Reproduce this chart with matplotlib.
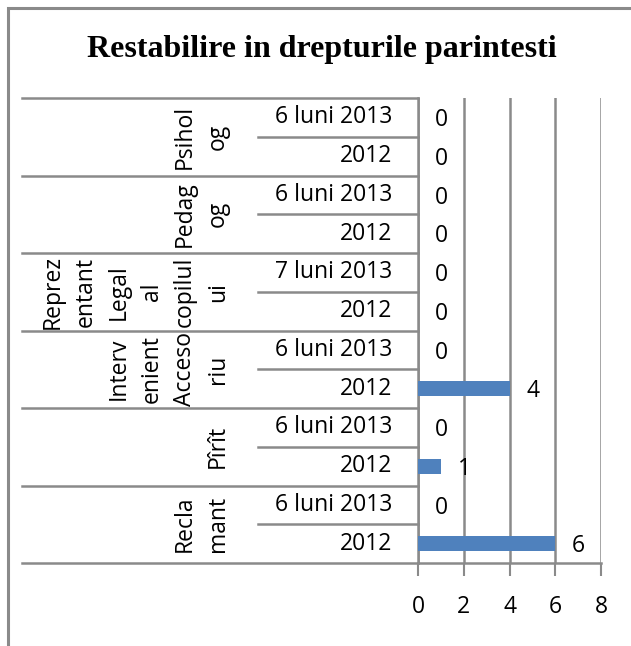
import matplotlib
matplotlib.use("Agg")
import matplotlib.pyplot as plt
import matplotlib.transforms as mtransforms
from matplotlib.patches import Rectangle
from matplotlib.lines import Line2D

# data, bottom to top (Excel draws the first category at the bottom)
groups = ["Recla\nmant", "Pîrît", "Interv\nenient\nAcceso\nriu",
          "Reprez\nentant\nLegal\nal\ncopilul\nui", "Pedag\nog", "Psihol\nog"]
periods = [["2012", "6 luni 2013"], ["2012", "6 luni 2013"], ["2012", "6 luni 2013"],
           ["2012", "7 luni 2013"], ["2012", "6 luni 2013"], ["2012", "6 luni 2013"]]
values = [[6, 0], [1, 0], [4, 0], [0, 0], [0, 0], [0, 0]]
xticks = [0, 2, 4, 6, 8]
title = "Restabilire in drepturile parintesti"

W, H = 631, 646
fig = plt.figure(figsize=(W / 100, H / 100), dpi=100)
fig.patch.set_facecolor("white")

lab_font = "Open Sans"
fs = 16.5
grey = "#8a8a8a"

# outer chart frame (cut at right and bottom)
fig.add_artist(Rectangle((8 / W, -0.05), 1.1, 1 - 8 / H + 0.05, transform=fig.transFigure,
                         fill=False, edgecolor=grey, lw=2.2))

# plot area in pixels
x0, x1, ytop, ybot = 418, 601, 98, 563
ax = fig.add_axes([x0 / W, 1 - ybot / H, (x1 - x0) / W, (ybot - ytop) / H])

names, vals = [], []
for g in range(len(groups)):
    for k in range(2):
        names.append(periods[g][k])
        vals.append(values[g][k])
pos = list(range(len(vals)))

ax.barh(pos, vals, height=0.39, color="#4f81bd", edgecolor="none", zorder=3)
ax.set_ylim(-0.5, len(vals) - 0.5)
ax.set_xlim(0, 8)
ax.set_xticks(xticks)
ax.set_xticklabels([str(t) for t in xticks], fontfamily=lab_font, fontsize=fs)
ax.tick_params(axis="x", length=9, width=1.5, color=grey, pad=14)
ax.set_yticks([])
for s in ["top", "right"]:
    ax.spines[s].set_visible(False)
ax.spines["left"].set_color(grey)
ax.spines["left"].set_linewidth(1.8)
ax.spines["bottom"].set_visible(False)
ax.grid(axis="x", color=grey, lw=1.8, zorder=1)
ax.set_axisbelow(True)

for p, v in zip(pos, vals):
    ax.annotate(str(v), (v, p), xytext=(12, -2), textcoords="offset points",
                ha="left", va="center", fontfamily=lab_font, fontsize=fs)

# category axis drawn by hand at the left
tr = mtransforms.blended_transform_factory(fig.transFigure, ax.transData)
xl, xm = 22 / W, 258 / W
xa = x0 / W
for p, n in zip(pos, names):
    ax.text(392 / W, p, n, transform=tr, ha="right", va="center",
            fontfamily=lab_font, fontsize=fs)
for g, lab in enumerate(groups):
    c = 2 * g + 0.5
    ax.text(230 / W, c, lab, transform=tr, rotation=90, ha="right", va="center",
            multialignment="center", linespacing=1.5,
            fontfamily=lab_font, fontsize=fs)
    # separator inside the group
    ax.add_line(Line2D([xm, xa], [2 * g + 0.5] * 2, transform=tr, color=grey,
                       lw=1.8, clip_on=False))
    # group boundaries
    ax.add_line(Line2D([xl, xa], [2 * g - 0.5] * 2, transform=tr, color=grey,
                       lw=1.8, clip_on=False))
ax.add_line(Line2D([xl, xa], [len(vals) - 0.5] * 2, transform=tr, color=grey,
                   lw=1.8, clip_on=False))
ax.add_line(Line2D([xa, x1 / W], [-0.5] * 2, transform=tr, color=grey,
                   lw=1.8, clip_on=False))

fig.text(322 / W, 1 - 49 / H, title, ha="center", va="center",
         fontfamily="Liberation Serif", fontweight="bold", fontsize=23)

fig.savefig("out.png", dpi=100, facecolor="white")
